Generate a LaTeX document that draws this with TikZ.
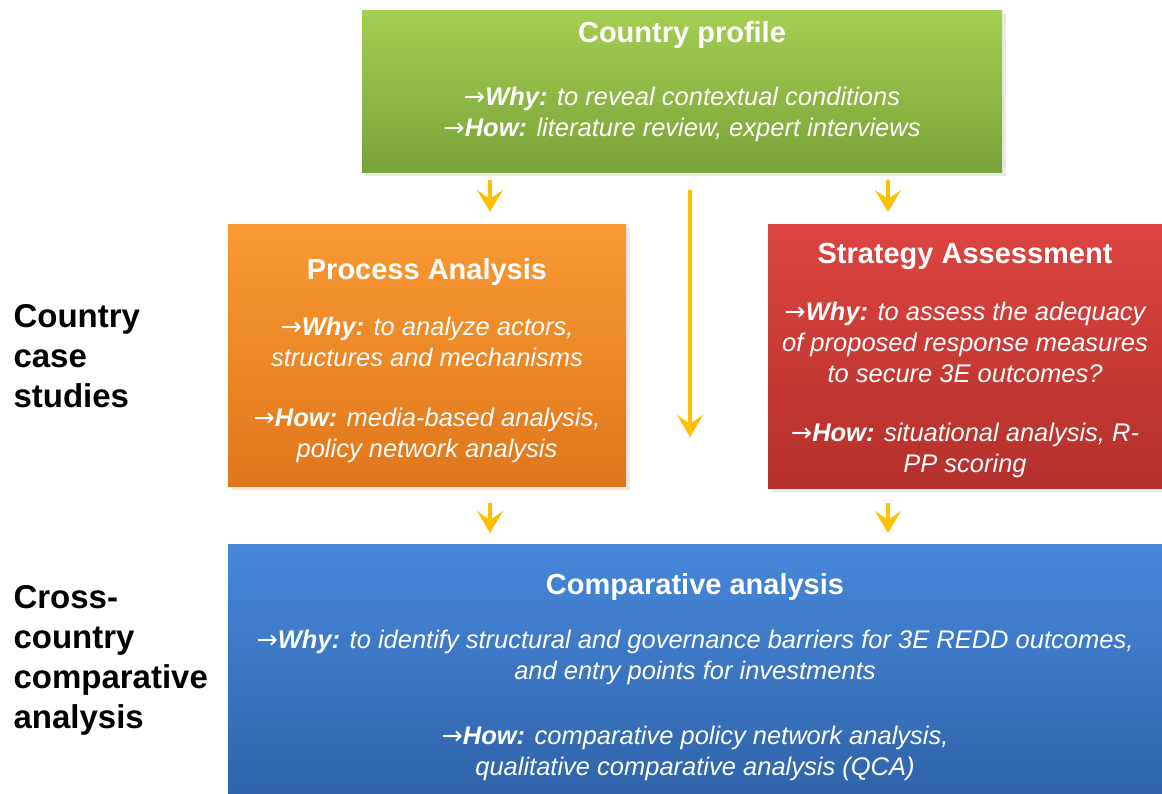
\documentclass[tikz,border=0pt]{standalone}
\usepackage{fontspec}
\setmainfont{Liberation Sans}
\newfontfamily\symf{DejaVu Sans}
\usetikzlibrary{arrows.meta}
\definecolor{gtop}{HTML}{A4CF52}
\definecolor{gbot}{HTML}{79A33A}
\definecolor{otop}{HTML}{F99A33}
\definecolor{obot}{HTML}{E0771C}
\definecolor{rtop}{HTML}{DD4541}
\definecolor{rbot}{HTML}{B3302C}
\definecolor{btop}{HTML}{4788DA}
\definecolor{bbot}{HTML}{2F64AA}
\definecolor{gold}{HTML}{FFC000}
\tikzset{
  box/.style={rectangle, draw=none, inner sep=0pt},
  shade/.style={fill=black!25, opacity=0.35},
  title/.style={text=white, font=\fontsize{29}{33}\selectfont\bfseries, align=center},
  body/.style={text=white, font=\fontsize{25.5}{31}\selectfont\itshape, align=center},
  side/.style={text=black, font=\fontsize{33}{40}\selectfont\bfseries, align=left, anchor=north west},
  arr/.style={draw=gold, line width=4.5pt, -{Stealth[width=26pt,length=22pt,inset=9pt]}},
}
\newcommand{\rar}{{\symf\upshape\mdseries →}}
\begin{document}
\begin{tikzpicture}[x=1pt,y=-1pt]
\useasboundingbox (0,0) rectangle (1162,793);
% shadows
\fill[shade] (366,14) rectangle (1006,176);
\fill[shade] (232,228) rectangle (630,490);
\fill[shade] (772,228) rectangle (1166,492);
% boxes
\node[box, minimum width=640pt, minimum height=162pt, top color=gtop, bottom color=gbot] (green) at (682,91) {};
\node[box, minimum width=398pt, minimum height=262pt, top color=otop, bottom color=obot] (orange) at (427,355) {};
\node[box, minimum width=394pt, minimum height=264pt, top color=rtop, bottom color=rbot] (red) at (965,356) {};
\node[box, minimum width=934pt, minimum height=250pt, top color=btop, bottom color=bbot] (blue) at (695,669) {};
% green texts
\node[title] (gt) at (682,35) {Country profile};
\node[body] (gb) at (682,114) {\rar\textbf{Why:} to reveal contextual conditions\\ \rar\textbf{How:} literature review, expert interviews};
% orange texts
\node[title] (ot) at (427,272) {Process Analysis};
\node[body] (ob1) at (427,342) {\rar\textbf{Why:} to analyze actors,\\ structures and mechanisms};
\node[body] (ob2) at (427,435) {\rar\textbf{How:} media-based analysis,\\ policy network analysis};
% red texts
\node[title] (rt) at (965,256) {Strategy Assessment};
\node[body] (rb1) at (965,342) {\rar\textbf{Why:} to assess the adequacy\\ of proposed response measures\\ to secure 3E outcomes?};
\node[body] (rb2) at (965,450) {\rar\textbf{How:} situational analysis, R-\\ PP scoring};
% blue texts
\node[title] (bt) at (695,587) {Comparative analysis};
\node[body] (bb1) at (695,657) {\rar\textbf{Why:} to identify structural and governance barriers for 3E REDD outcomes,\\ and entry points for investments};
\node[body] (bb2) at (695,753) {\rar\textbf{How:} comparative policy network analysis,\\ qualitative comparative analysis (QCA)};
% side labels
\node[side] (s1) at (10,301) {Country\\case\\studies};
\node[side] (s2) at (10,582) {Cross-\\country\\comparative\\analysis};
% arrows
\coordinate (a1s) at (490,180); \coordinate (a1e) at (490,212);
\coordinate (a2s) at (888,180); \coordinate (a2e) at (888,212);
\coordinate (a3s) at (690,190); \coordinate (a3e) at (690,437);
\coordinate (a4s) at (490,503); \coordinate (a4e) at (490,533);
\coordinate (a5s) at (888,503); \coordinate (a5e) at (888,533);
\draw[arr] (a1s) -- (a1e);
\draw[arr] (a2s) -- (a2e);
\draw[arr] (a3s) -- (a3e);
\draw[arr] (a4s) -- (a4e);
\draw[arr] (a5s) -- (a5e);
\end{tikzpicture}
\end{document}
